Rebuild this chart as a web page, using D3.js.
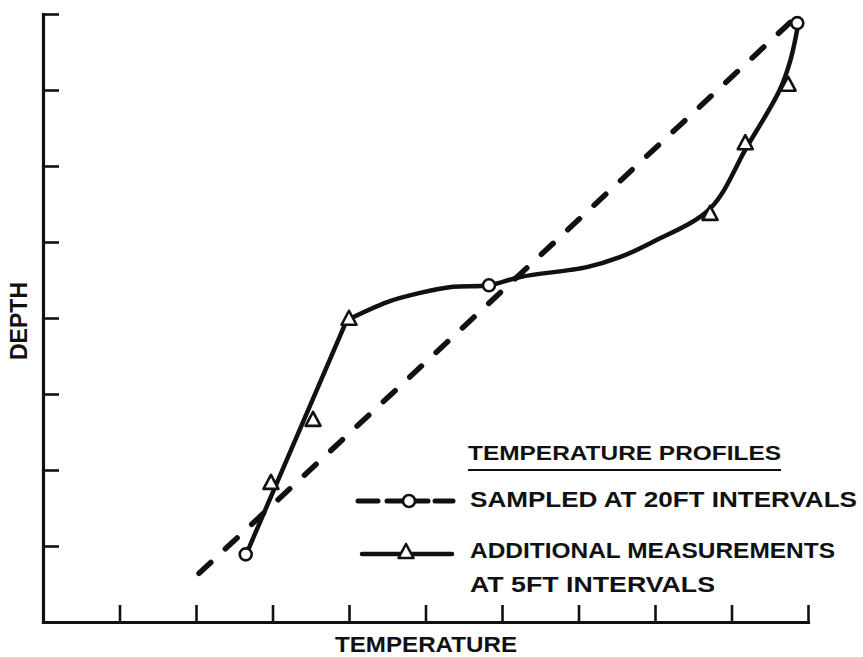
<!DOCTYPE html>
<html>
<head>
<meta charset="utf-8">
<script src="https://cdn.jsdelivr.net/npm/d3@7"></script>
<style>
  html, body { margin: 0; padding: 0; background: #fff; }
  svg { display: block; }
  text { font-family: "Liberation Sans", Arial, sans-serif; font-weight: bold; fill: #111; }
</style>
</head>
<body>
<svg id="chart" width="863" height="657"></svg>
<script>
// Temperature axis runs over 10 tick intervals, depth axis over 8 (depth grows downward).
const tempTicks = d3.range(0, 11);
const depthTicks = d3.range(0, 9);

// Profile sampled at 20 ft intervals (circles) and its straight-line trend (dashed)
const sampledTemp  = [2.65, 5.83, 9.86];
const sampledDepth = [7.11, 3.57, 0.12];
const trendTemp  = [2.04, 9.80];
const trendDepth = [7.36, 0.08];

// Additional readings at 5 ft intervals (triangles)
const addlTemp  = [2.98, 3.53, 4.00, 8.72, 9.18, 9.74];
const addlDepth = [6.17, 5.34, 4.01, 2.63, 1.70, 0.93];

// Detailed profile drawn through all readings: straight lower leg, curved upper part
const lowerTemp  = [2.69, 3.97];
const lowerDepth = [7.03, 4.03];
const upperTemp  = [3.97, 4.50, 4.93, 5.36, 5.83, 6.24, 7.11, 7.54, 7.97, 8.72, 9.20, 9.63, 9.77, 9.86];
const upperDepth = [4.03, 3.79, 3.67, 3.59, 3.57, 3.46, 3.33, 3.20, 3.00, 2.56, 1.75, 1.00, 0.61, 0.20];

const legendTitle = "TEMPERATURE PROFILES";
const legendSampled = "SAMPLED AT 20FT INTERVALS";
const legendAddl = ["ADDITIONAL MEASUREMENTS", "AT 5FT INTERVALS"];

const svg = d3.select("#chart");
const x = d3.scaleLinear().domain([0, 10]).range([43, 808]);
const y = d3.scaleLinear().domain([0, 8]).range([14, 622]);

const ink = "#111";
const zip = (a, b) => a.map((v, i) => [v, b[i]]);

// Axes: ticks point into the plot
const yAxis = svg.append("g").attr("transform", `translate(${x(0)},0)`)
  .call(d3.axisLeft(y).tickValues(depthTicks.slice(0, -1)).tickSize(-16).tickSizeOuter(0).tickFormat(""));
const xAxis = svg.append("g").attr("transform", `translate(0,${y(8)})`)
  .call(d3.axisBottom(x).tickValues(tempTicks.slice(1)).tickSize(-17).tickSizeOuter(0).tickFormat(""));
[xAxis, yAxis].forEach(g => {
  g.select(".domain").attr("stroke", ink).attr("stroke-width", 3.2).attr("stroke-linecap", "square");
  g.selectAll(".tick line").attr("stroke", ink).attr("stroke-width", 2.6);
});

// Axis titles
svg.append("text").attr("x", 335).attr("y", 652).attr("font-size", 22)
  .attr("textLength", 182).attr("lengthAdjust", "spacingAndGlyphs").text("TEMPERATURE");
svg.append("text").attr("transform", "translate(27,360) rotate(-90)").attr("font-size", 23)
  .attr("textLength", 78).attr("lengthAdjust", "spacingAndGlyphs").text("DEPTH");

const line = d3.line().x(d => x(d[0])).y(d => y(d[1]));

// Dashed trend line
svg.append("path").datum(zip(trendTemp, trendDepth))
  .attr("d", line).attr("fill", "none").attr("stroke", ink)
  .attr("stroke-width", 5.5).attr("stroke-linecap", "round").attr("stroke-dasharray", "16,20");

// Solid detailed profile
svg.append("path").datum(zip(lowerTemp, lowerDepth))
  .attr("d", line).attr("fill", "none").attr("stroke", ink).attr("stroke-width", 4.5).attr("stroke-linecap", "round");
svg.append("path").datum(zip(upperTemp, upperDepth))
  .attr("d", line.curve(d3.curveCatmullRom)).attr("fill", "none").attr("stroke", ink).attr("stroke-width", 4.5).attr("stroke-linecap", "round");

const triPath = "M0,-8L7.5,6L-7.5,6Z";

// Markers
svg.append("g").selectAll("path").data(zip(addlTemp, addlDepth)).join("path")
  .attr("d", triPath).attr("transform", d => `translate(${x(d[0])},${y(d[1])})`)
  .attr("fill", "#fff").attr("stroke", ink).attr("stroke-width", 2.6).attr("stroke-linejoin", "round");
svg.append("g").selectAll("circle").data(zip(sampledTemp, sampledDepth)).join("circle")
  .attr("cx", d => x(d[0])).attr("cy", d => y(d[1])).attr("r", 6)
  .attr("fill", "#fff").attr("stroke", ink).attr("stroke-width", 2.6);

// Legend
const lg = svg.append("g").attr("transform", "translate(358,0)");
lg.append("text").attr("x", 110).attr("y", 460).attr("font-size", 21)
  .attr("textLength", 313).attr("lengthAdjust", "spacingAndGlyphs").text(legendTitle);
lg.append("line").attr("x1", 110).attr("x2", 423).attr("y1", 470).attr("y2", 470)
  .attr("stroke", ink).attr("stroke-width", 2);

[[0, 20], [29, 70], [77, 95]].forEach(([a, b]) => {
  lg.append("line").attr("x1", a).attr("x2", b).attr("y1", 501).attr("y2", 501)
    .attr("stroke", ink).attr("stroke-width", 5).attr("stroke-linecap", "round");
});
lg.append("circle").attr("cx", 51).attr("cy", 501).attr("r", 6)
  .attr("fill", "#fff").attr("stroke", ink).attr("stroke-width", 2.6);
lg.append("text").attr("x", 112).attr("y", 507).attr("font-size", 22)
  .attr("textLength", 387).attr("lengthAdjust", "spacingAndGlyphs").text(legendSampled);

lg.append("line").attr("x1", 4).attr("x2", 94).attr("y1", 554).attr("y2", 554)
  .attr("stroke", ink).attr("stroke-width", 4.5).attr("stroke-linecap", "round");
lg.append("path").attr("d", triPath).attr("transform", "translate(48,552)")
  .attr("fill", "#fff").attr("stroke", ink).attr("stroke-width", 2.6).attr("stroke-linejoin", "round");
lg.append("text").attr("x", 112).attr("y", 558).attr("font-size", 22)
  .attr("textLength", 365).attr("lengthAdjust", "spacingAndGlyphs").text(legendAddl[0]);
lg.append("text").attr("x", 112).attr("y", 592).attr("font-size", 22)
  .attr("textLength", 245).attr("lengthAdjust", "spacingAndGlyphs").text(legendAddl[1]);
</script>
</body>
</html>
